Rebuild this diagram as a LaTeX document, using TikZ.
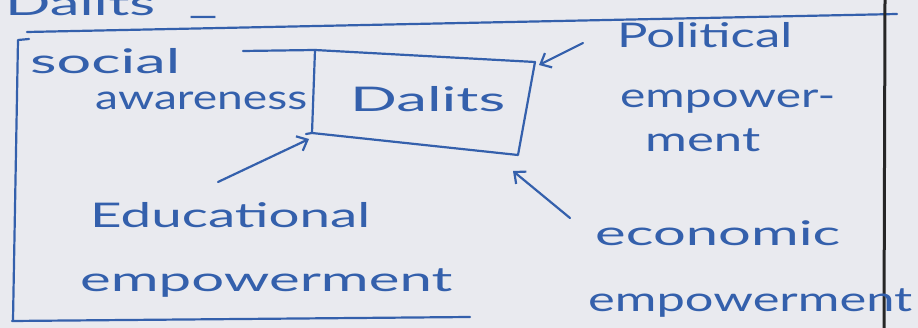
\documentclass[tikz,border=0pt]{standalone}
\usepackage{fontspec}
\setmainfont{Lato}
\usetikzlibrary{arrows.meta}
\definecolor{pen}{RGB}{52,96,172}
\definecolor{paper}{RGB}{233,234,239}
\newcommand{\hw}[2]{\resizebox{#1pt}{\height}{#2}}
\begin{document}
\begin{tikzpicture}[x=1pt,y=-1pt,
  hand/.style={text=pen, font=\fontsize{34}{40}\selectfont, anchor=base west, inner sep=0pt},
  ink/.style={draw=pen, line width=2.2pt, line cap=round, line join=round},
  arr/.style={ink, -{Straight Barb[length=9pt,width=16pt]}}]
\fill[paper] (0,0) rectangle (918,328);
\useasboundingbox (0,0) rectangle (918,328);
% title (cut off at top, as in the reference)
\node[hand] (title) at (5,16) {\hw{150}{Dalits}\hspace{30pt}\raisebox{-12pt}{\hw{36}{--}}};
% outer frame
\draw[ink] (29,39) -- (18,40) -- (13,320);
\draw[ink] (27,32) -- (897,14);
\draw[ink] (12,321) -- (470,317);
% margin line
\draw[line width=3pt, black!85] (885,0) -- (884,328);
% central box
\coordinate (b0) at (243,51);
\coordinate (b1) at (315,50);
\coordinate (b2) at (535,62);
\coordinate (b3) at (518,155);
\coordinate (b4) at (312,133);
\coordinate (b5) at (306,134);
\draw[ink] (b0) -- (b1) -- (b2) -- (b3) -- (b4) -- (b5);
\draw[ink] (b1) -- (b4);
\node[hand] (dal) at (350,112) {\hw{155}{Dalits}};
% labels
\node[hand] (soc1) at (30,74) {\hw{150}{social}};
\node[hand] (soc2) at (95,110) {\hw{212}{awareness}};
\node[hand] (pol1) at (617,48) {\hw{175}{Political}};
\node[hand] (pol2) at (620,108) {\hw{215}{empower-}};
\node[hand] (pol3) at (645,152) {\hw{115}{ment}};
\node[hand] (edu1) at (90,228) {\hw{280}{Educational}};
\node[hand] (edu2) at (80,292) {\hw{372}{empowerment}};
\node[hand] (eco1) at (595,246) {\hw{245}{economic}};
\node[hand] (eco2) at (588,312) {\hw{324}{empowerment}};
% arrows
\coordinate (polT) at (583,43);
\coordinate (boxTR) at (539,65);
\coordinate (eduT) at (218,182);
\coordinate (boxBL) at (309,139);
\coordinate (ecoT) at (570,218);
\coordinate (boxBR) at (513,171);
\draw[arr] (polT) -- (boxTR);
\draw[arr] (eduT) -- (boxBL);
\draw[arr] (ecoT) -- (boxBR);
\end{tikzpicture}
\end{document}
